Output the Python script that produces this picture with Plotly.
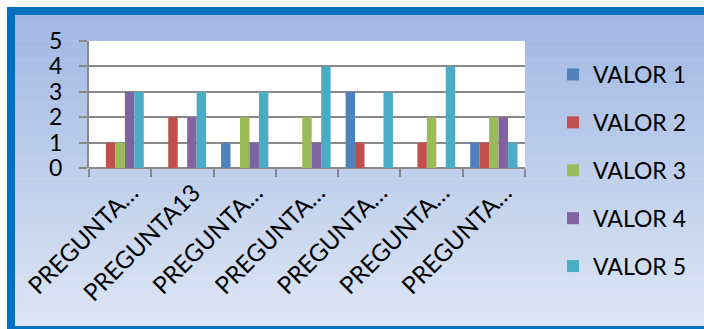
import plotly.graph_objects as go

# ---- data -------------------------------------------------------------
categories = ["PREGUNTA…", "PREGUNTA13", "PREGUNTA…", "PREGUNTA…",
              "PREGUNTA…", "PREGUNTA…", "PREGUNTA…"]
valor_1 = [0, 0, 1, 0, 3, 0, 1]
valor_2 = [1, 2, 0, 0, 1, 1, 1]
valor_3 = [1, 0, 2, 2, 0, 2, 2]
valor_4 = [3, 2, 1, 1, 0, 0, 2]
valor_5 = [3, 3, 3, 4, 3, 4, 1]
series_names = ["VALOR 1", "VALOR 2", "VALOR 3", "VALOR 4", "VALOR 5"]
y_ticks = [0, 1, 2, 3, 4, 5]

# ---- styling ----------------------------------------------------------
colors = ["#4F81BD", "#C0504D", "#9BBB59", "#8064A2", "#4BACC6"]
FONT = "Lato"
GRID = "#8A8A8A"
W, H = 704, 329
ML, MR, MT, MB = 89, 179, 41, 161
PW, PH = W - ML - MR, H - MT - MB


def px_x(p):
    return (p - ML) / PW


def px_y(p):
    return (H - MB - p) / PH


def mix(c1, c2, t):
    a = [int(c1[i:i + 2], 16) for i in (1, 3, 5)]
    b = [int(c2[i:i + 2], 16) for i in (1, 3, 5)]
    return "#" + "".join(f"{round(a[k] + (b[k] - a[k]) * t):02x}" for k in range(3))


x_pos = list(range(len(categories)))
series = [valor_1, valor_2, valor_3, valor_4, valor_5]

fig = go.Figure()
for name, vals, col in zip(series_names, series, colors):
    fig.add_trace(go.Bar(x=x_pos, y=vals, name=name, marker_color=col,
                         marker_line_width=0, showlegend=False))
# legend entries with square swatches
for i, (name, col) in enumerate(zip(series_names, colors)):
    fig.add_trace(go.Scatter(x=[None], y=[None], mode="markers", name=name,
                             marker=dict(symbol="square", size=15, color=col),
                             legendgroup=f"g{i}"))

# background: gradient panel with blue frame
shapes = []
top, bottom, n = 7, 340, 70
step = (bottom - top) / n
for i in range(n):
    y0 = top + i * step
    shapes.append(dict(type="rect", xref="paper", yref="paper", layer="below",
                       x0=px_x(7), x1=px_x(720), y0=px_y(y0 + step + 0.5), y1=px_y(y0),
                       fillcolor=mix("#9FB7E3", "#DFE7F5", i / (n - 1)),
                       line_width=0))
shapes.append(dict(type="rect", xref="paper", yref="paper", layer="below",
                   x0=px_x(11), x1=px_x(730), y0=px_y(330), y1=px_y(11),
                   line=dict(color="#0070C0", width=8), fillcolor="rgba(0,0,0,0)"))
shapes.append(dict(type="rect", xref="paper", yref="paper", layer="below",
                   x0=0, x1=1, y0=0, y1=1, fillcolor="white", line_width=0))

fig.update_layout(
    width=W, height=H,
    margin=dict(l=ML, r=MR, t=MT, b=MB, pad=0),
    paper_bgcolor="white", plot_bgcolor="white",
    barmode="group", bargap=0.24, bargroupgap=0,
    font=dict(family=FONT, size=23, color="black"),
    shapes=shapes,
    showlegend=True,
    legend=dict(x=px_x(553), y=px_y(53), xanchor="left", yanchor="top",
                bgcolor="rgba(0,0,0,0)", tracegroupgap=15, maxheight=300,
                font=dict(family=FONT, size=23, color="black"),
                itemsizing="constant"),
)
fig.update_xaxes(
    range=[-0.5, len(categories) - 0.5],
    tickmode="array", tickvals=x_pos, ticktext=categories,
    tickangle=-45, ticks="", showgrid=False, zeroline=False,
    showline=False, tickfont=dict(family=FONT, size=24),
    ticklabelshift=11, ticklabelstandoff=5,
    minor=dict(tickmode="array",
               tickvals=[i - 0.5 for i in range(len(categories) + 1)],
               ticks="outside", ticklen=8, tickwidth=2, tickcolor=GRID,
               showgrid=False),
)
fig.update_yaxes(
    range=[0, 5], tickmode="array", tickvals=y_ticks,
    showgrid=True, gridcolor=GRID, gridwidth=2,
    zeroline=True, zerolinecolor=GRID, zerolinewidth=2,
    showline=True, linecolor=GRID, linewidth=2,
    ticks="outside", ticklen=8, tickwidth=2, tickcolor=GRID,
    ticklabelstandoff=12, tickfont=dict(family=FONT, size=23),
)

fig.write_html("out.html")
